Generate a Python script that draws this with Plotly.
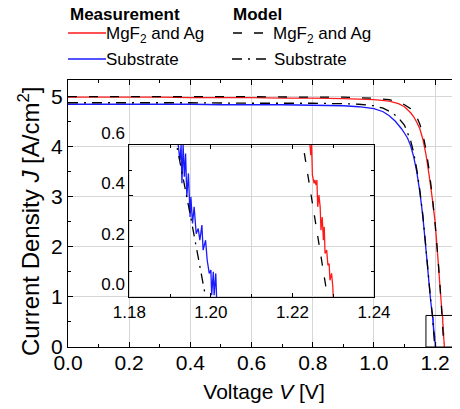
import plotly.graph_objects as go

# ---------------- data ----------------
# Measurement, MgF2 and Ag (red)
v_meas_mgf2 = [0.0, 0.1, 0.2, 0.3, 0.4, 0.5, 0.6, 0.7, 0.8, 0.9, 1.0, 1.05, 1.08, 1.10, 1.12, 1.13,
               1.14, 1.15, 1.16, 1.17, 1.18, 1.19, 1.20, 1.21, 1.215, 1.22,
               1.2243, 1.2245, 1.2247, 1.2249, 1.2253, 1.2255, 1.2258, 1.2260, 1.2262, 1.2265,
               1.2268, 1.2270, 1.2273, 1.2276, 1.2278, 1.2280, 1.2284, 1.2287, 1.2290, 1.2292,
               1.2296, 1.2299, 1.2300]
j_meas_mgf2 = [4.99, 4.99, 4.99, 4.99, 4.98, 4.98, 4.98, 4.97, 4.97, 4.96, 4.94, 4.91, 4.86, 4.80, 4.68, 4.60,
               4.49, 4.36, 4.15, 3.85, 3.45, 3.00, 2.50, 1.70, 1.28, 0.88,
               0.600, 0.560, 0.600, 0.481, 0.449, 0.462, 0.442, 0.462, 0.356, 0.402,
               0.356, 0.264, 0.316, 0.224, 0.277, 0.172, 0.185, 0.125, 0.132, 0.066,
               0.093, 0.040, 0.000]

# Measurement, Substrate (blue)
v_meas_sub = [0.0, 0.1, 0.2, 0.3, 0.4, 0.5, 0.6, 0.7, 0.8, 0.9, 0.95, 1.0, 1.03, 1.05, 1.07, 1.09,
              1.10, 1.11, 1.12, 1.13, 1.14, 1.15, 1.16, 1.17, 1.18, 1.185, 1.19,
              1.1920, 1.1924, 1.1927, 1.1929, 1.1932, 1.1935, 1.1938, 1.1941, 1.1945, 1.1949,
              1.1951, 1.1955, 1.1959, 1.1964, 1.1969, 1.1973, 1.1978, 1.1981, 1.1987, 1.1991,
              1.1996, 1.2000, 1.2002, 1.2006, 1.2008, 1.2012, 1.2014]
j_meas_sub = [4.85, 4.85, 4.85, 4.85, 4.85, 4.84, 4.84, 4.84, 4.83, 4.82, 4.80, 4.76, 4.70, 4.62, 4.51, 4.36,
              4.27, 4.17, 4.02, 3.80, 3.50, 3.10, 2.60, 1.95, 1.28, 0.95, 0.68,
              0.600, 0.540, 0.600, 0.449, 0.600, 0.475, 0.567, 0.396, 0.488, 0.316,
              0.396, 0.290, 0.356, 0.250, 0.270, 0.224, 0.284, 0.185, 0.224, 0.145,
              0.093, 0.106, 0.007, 0.099, 0.007, 0.093, 0.000]

# Model, MgF2 and Ag (black dashed)
v_model_mgf2 = [0.0, 0.2, 0.4, 0.6, 0.8, 0.9, 1.0, 1.05, 1.08, 1.10, 1.12, 1.14, 1.15, 1.16, 1.17,
                1.18, 1.19, 1.20, 1.21, 1.215, 1.22, 1.2226, 1.2254, 1.2286]
j_model_mgf2 = [5.00, 5.00, 5.00, 5.00, 4.99, 4.99, 4.97, 4.94, 4.89, 4.84, 4.76, 4.59, 4.45, 4.25, 3.95,
                3.55, 3.05, 2.45, 1.72, 1.30, 0.85, 0.60, 0.32, 0.00]

# Model, Substrate (black dash-dot)
v_model_sub = [0.0, 0.2, 0.4, 0.6, 0.8, 0.9, 0.95, 1.0, 1.03, 1.06, 1.08, 1.10, 1.12, 1.13, 1.14,
               1.15, 1.16, 1.17, 1.18, 1.185, 1.19, 1.1916, 1.195, 1.1987]
j_model_sub = [4.88, 4.88, 4.88, 4.87, 4.87, 4.86, 4.85, 4.82, 4.77, 4.68, 4.58, 4.43, 4.12, 3.88, 3.55,
               3.13, 2.62, 1.98, 1.30, 0.97, 0.70, 0.60, 0.32, 0.00]

# axis ranges / marker box
main_x_range = [0, 1.2813]
main_y_range = [0, 5.334]
inset_x_range = [1.18, 1.24]
inset_y_range = [0, 0.6]
zoom_box_x = [1.17, 1.26]
zoom_box_y = [0, 0.63]

# ---------------- figure ----------------
# the page body has an 8px margin, so the figure sits at (8, 8) in the 460x409 window
FONT = "Liberation Sans, Arial, sans-serif"
RED = "#ff1a1a"
BLUE = "#1a1aff"
DASH = "9px,12px"
DASHDOT = "10px,6px,2px,6px"

series = [
    (v_meas_mgf2, j_meas_mgf2, RED, "solid"),
    (v_meas_sub, j_meas_sub, BLUE, "solid"),
    (v_model_mgf2, j_model_mgf2, "black", DASH),
    (v_model_sub, j_model_sub, "black", DASHDOT),
]

fig = go.Figure()
for xa, ya in (("x", "y"), ("x2", "y2")):
    for vx, jy, col, dash in series:
        fig.add_trace(go.Scatter(
            x=vx, y=jy, mode="lines", xaxis=xa, yaxis=ya, showlegend=False,
            line=dict(color=col, width=1.3, dash=dash, simplify=False),
            hoverinfo="skip"))

fig.add_shape(type="rect", xref="x", yref="y",
              x0=zoom_box_x[0], x1=zoom_box_x[1], y0=zoom_box_y[0], y1=zoom_box_y[1],
              line=dict(color="black", width=1))

axis_common = dict(showline=True, linecolor="black", linewidth=1, mirror="allticks",
                   ticks="inside", tickcolor="black", zeroline=False, automargin=False)

fig.update_layout(
    width=452, height=401,
    margin=dict(l=60, r=0, t=72, b=62, autoexpand=False),
    paper_bgcolor="white", plot_bgcolor="rgba(0,0,0,0)",
    font=dict(family=FONT, color="black"),
    xaxis=dict(axis_common, domain=[0, 1], range=main_x_range, tick0=0, dtick=0.2,
               tickformat=".1f", ticklen=5, tickfont=dict(size=21), ticklabelstandoff=-3,
               showgrid=True, gridcolor="#d6d6d6", gridwidth=1,
               minor=dict(dtick=0.1, ticks="inside", ticklen=3, tickcolor="black", showgrid=False),
               title=dict(text="Voltage <i>V</i> [V]", font=dict(size=21), standoff=11)),
    yaxis=dict(axis_common, domain=[0, 1], range=main_y_range, tick0=0, dtick=1,
               ticklen=5, tickfont=dict(size=21),
               showgrid=True, gridcolor="#d6d6d6", gridwidth=1,
               minor=dict(dtick=0.5, ticks="inside", ticklen=3, tickcolor="black", showgrid=False)),
    xaxis2=dict(axis_common, domain=[0.1564, 0.7806], anchor="y2", range=inset_x_range,
                tick0=1.18, dtick=0.02, tickformat=".2f", ticklen=4, tickfont=dict(size=17),
                showgrid=False,
                minor=dict(dtick=0.01, ticks="inside", ticklen=3, tickcolor="black", showgrid=False)),
    yaxis2=dict(axis_common, domain=[0.1875, 0.7563], anchor="x2", range=inset_y_range,
                tick0=0, dtick=0.2, tickformat=".1f", ticklen=4, tickfont=dict(size=17),
                ticklabelposition="outside top", showgrid=False,
                minor=dict(dtick=0.1, ticks="inside", ticklen=3, tickcolor="black", showgrid=False)),
)

# ---------------- helpers: window-pixel position -> plot-area paper fraction ----------------
def px_x(px):
    return (px - 68) / 392.0

def px_y(py):
    return (347 - py) / 267.0

# y-axis title (larger than the x title in the original)
fig.add_annotation(xref="paper", yref="paper", x=px_x(29), y=px_y(222), xanchor="center", yanchor="middle",
                   textangle=-90, showarrow=False,
                   text="Current Density <i>J</i> [A/cm<sup>2</sup>]",
                   font=dict(family=FONT, size=24, color="black"))

# ---------------- legend (drawn as text + sample lines) ----------------
legend_font = dict(family=FONT, size=17, color="black")
fig.add_annotation(xref="paper", yref="paper", x=px_x(68), y=px_y(14), xanchor="left", yanchor="middle",
                   text="<b>Measurement</b>", showarrow=False, font=legend_font)
fig.add_annotation(xref="paper", yref="paper", x=px_x(231), y=px_y(14), xanchor="left", yanchor="middle",
                   text="<b>Model</b>", showarrow=False, font=legend_font)

legend_rows = [
    (33, RED, "solid", 68, 106, 104, "MgF<sub>2</sub> and Ag", 35),
    (59, BLUE, "solid", 68, 106, 104, "Substrate", 59),
    (33, "black", DASH, 233, 264, 271, "MgF<sub>2</sub> and Ag", 35),
    (59, "black", DASHDOT, 232, 271, 272, "Substrate", 59),
]
for ly, col, dash, x0, x1, tx, label, ty in legend_rows:
    fig.add_shape(type="line", xref="paper", yref="paper", x0=px_x(x0), x1=px_x(x1),
                  y0=px_y(ly), y1=px_y(ly), line=dict(color=col, width=1.3, dash=dash))
    fig.add_annotation(xref="paper", yref="paper", x=px_x(tx), y=px_y(ty), xanchor="left", yanchor="middle",
                       text=label, showarrow=False, font=legend_font)

fig.write_html("out.html")
